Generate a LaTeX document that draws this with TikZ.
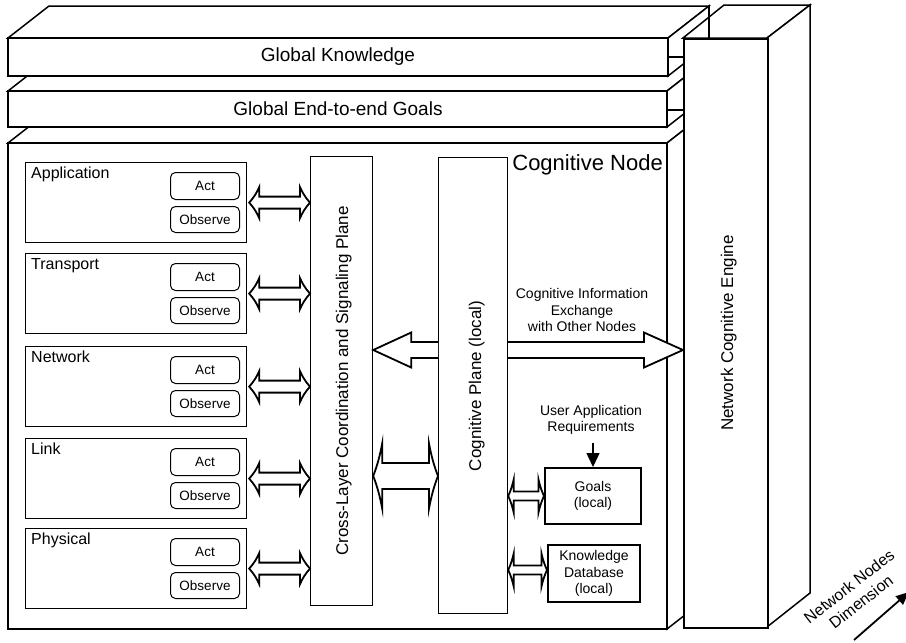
\documentclass[tikz,border=0pt]{standalone}
\usepackage{fontspec}
\setmainfont{Liberation Sans}
\usetikzlibrary{calc,arrows.meta}
\newcommand{\dblarr}[5]{%
  \draw[dblarrow] let \p1=#1, \p2=#2 in
   (\x1,\y1)
   .. controls (\x1+0.5*#3,\y1+0.35*#4) and (\x1+0.8*#3,\y1+0.7*#4) .. (\x1+#3,\y1+#4)
   -- (\x1+#3,\y1+#5) -- (\x2-#3,\y1+#5) -- (\x2-#3,\y1+#4)
   .. controls (\x2-0.8*#3,\y1+0.7*#4) and (\x2-0.5*#3,\y1+0.35*#4) .. (\x2,\y1)
   .. controls (\x2-0.5*#3,\y1-0.35*#4) and (\x2-0.8*#3,\y1-0.7*#4) .. (\x2-#3,\y1-#4)
   -- (\x2-#3,\y1-#5) -- (\x1+#3,\y1-#5) -- (\x1+#3,\y1-#4)
   .. controls (\x1+0.8*#3,\y1-0.7*#4) and (\x1+0.5*#3,\y1-0.35*#4) .. (\x1,\y1) -- cycle;
}
\begin{document}
\begin{tikzpicture}[x=1pt,y=-1pt,
  slab/.style={draw=black,fill=white,line width=1.5pt,line join=miter},
  thinline/.style={draw=black,line width=1.5pt},
  layerbox/.style={draw=black,fill=white,line width=1.2pt,minimum width=221pt,minimum height=80pt,anchor=north west,inner sep=0pt},
  actbox/.style={draw=black,fill=white,line width=1pt,rounded corners=5pt,minimum width=69pt,anchor=north west,inner sep=0pt,font=\fontsize{13.5}{16}\selectfont},
  plane/.style={draw=black,fill=white,line width=1.2pt,anchor=north west,inner sep=0pt},
  dbbox/.style={draw=black,fill=white,line width=2pt,anchor=north west,inner sep=0pt},
  bigtext/.style={font=\fontsize{19}{22}\selectfont,inner sep=0pt},
  layerlabel/.style={font=\fontsize{16}{19}\selectfont,inner sep=0pt,anchor=base west},
  vtext/.style={font=\fontsize{17}{20}\selectfont,inner sep=0pt,rotate=90,anchor=base},
  smalltext/.style={font=\fontsize{14}{16.5}\selectfont,inner sep=0pt,align=center},
  dimtextstyle/.style={font=\fontsize{16}{19.5}\selectfont,inner sep=0pt,align=center,rotate=38},
  dblarrow/.style={draw=black,fill=white,line width=1.8pt,line join=miter,miter limit=20},
  bigarrow/.style={draw=black,fill=white,line width=1.8pt,line join=miter},
  reqarrow/.style={draw=black,line width=1.5pt,-{Triangle[length=14pt,width=13pt]}},
  dimarrow/.style={draw=black,line width=1.8pt,-{Triangle[length=13pt,width=11pt]}}
]
\useasboundingbox (0,0) rectangle (906,643);
\fill[white] (0,0) rectangle (906,643);

% ---- Cognitive Node slab (bottom) ----
\path[slab] (8,143)--(49,111)--(708,111)--(667,143)--cycle;
\path[slab] (667,143)--(708,111)--(708,597)--(667,629)--cycle;
\path[slab] (8,143) rectangle (667,629);
% ---- Global End-to-end Goals slab ----
\path[slab] (8,91)--(49,59)--(708,59)--(667,91)--cycle;
\path[slab] (667,91)--(708,59)--(708,95)--(667,127)--cycle;
\path[slab] (8,91) rectangle (667,127);
% ---- Global Knowledge slab ----
\path[slab] (8,38)--(49,6)--(709,6)--(668,38)--cycle;
\path[slab] (668,38)--(709,6)--(709,44)--(668,76)--cycle;
\path[slab] (8,38) rectangle (668,76);

\node[bigtext] (gk) at (338,57) {Global Knowledge};
\node[bigtext] (ge) at (338,109) {Global End-to-end Goals};
\node[font=\fontsize{22}{26}\selectfont,inner sep=0pt,anchor=base east] (cn) at (663,170) {Cognitive Node};

% ---- planes ----
\node[plane,minimum width=62pt,minimum height=449pt] (cross) at (310,156) {};
\node[vtext] (crosstext) at (348,381) {Cross-Layer Coordination and Signaling Plane};
\node[plane,minimum width=69pt,minimum height=456pt] (cog) at (438,157) {};
\node[vtext] (cogtext) at (481,386) {Cognitive Plane (local)};

% ---- protocol layers ----
\foreach \name/\top/\lab in {app/162/Application,trans/253/Transport,net/346/Network,link/438/Link,phys/528/Physical}{
  \node[layerbox] (\name) at (25,\top) {};
  \node[layerlabel] (lbl-\name) at (31,\top+16) {\lab};
  \node[actbox,minimum height=27pt] (act-\name) at (170,\top+10) {Act};
  \node[actbox,minimum height=26pt] (obs-\name) at (170,\top+44) {Observe};
  \dblarr{($(\name.east)+(2,0)$)}{(cross.west |- \name.east)}{10pt}{15.5pt}{6pt}
}

% ---- arrows between planes ----
\dblarr{(cross.east |- 0,476)}{(cog.west |- 0,476)}{9pt}{32.5pt}{13pt}
\draw[bigarrow] let \p1=(cog.west |- 0,350), \p2=(cross.east |- 0,350) in
  (\x1,\y1+8pt) -- (\x2+38pt,\y1+8pt) -- (\x2+38pt,\y1+17.5pt) -- (\x2,\y1)
  -- (\x2+38pt,\y1-17.5pt) -- (\x2+38pt,\y1-8pt) -- (\x1,\y1-8pt);

% ---- local goals / knowledge ----
\node[dbbox,minimum width=96pt,minimum height=56pt] (goals) at (544,467) {};
\node[smalltext] (goalstext) at (goals.center) {Goals\\(local)};
\node[dbbox,minimum width=92pt,minimum height=57pt] (kb) at (547,544) {};
\node[smalltext] (kbtext) at (kb.center) {Knowledge\\Database\\(local)};
\dblarr{(cog.east |- goals.west)}{(goals.west)}{5.5pt}{16.5pt}{4.5pt}
\dblarr{(cog.east |- 0,570)}{(kb.west |- 0,570)}{5.5pt}{16.5pt}{4.5pt}

\node[smalltext] (reqtext) at (591,420) {User Application\\Requirements};
\draw[reqarrow] (goals.north |- 0,443) -- (goals.north);

\node[smalltext] (infotext) at (582,310) {Cognitive Information\\Exchange\\with Other Nodes};

% ---- Network Cognitive Engine ----
\path[slab] (683,38)--(724,5)--(810,5)--(767,38)--cycle;
\path[slab] (767,38)--(810,5)--(810,593)--(767,627)--cycle;
\node[plane,line width=1.5pt,minimum width=84pt,minimum height=589pt] (engine) at (683,38) {};
\node[vtext] (enginetext) at (733,333) {Network Cognitive Engine};
\draw[thinline] (709,6) -- (709,38);
\draw[line width=1.2pt] (668,57) -- (683,57);
\draw[line width=1.2pt] (667,110) -- (683,110);

\draw[bigarrow] let \p1=(cog.east |- 0,350), \p2=(engine.west |- 0,350) in
  (\x1,\y1+8pt) -- (\x2-39pt,\y1+8pt) -- (\x2-39pt,\y1+17.5pt) -- (\x2,\y1)
  -- (\x2-39pt,\y1-17.5pt) -- (\x2-39pt,\y1-8pt) -- (\x1,\y1-8pt);

% ---- Network nodes dimension ----
\node[dimtextstyle] (dimtext) at (855,594) {Network Nodes\\Dimension};
\coordinate (dimA) at (854,640);
\coordinate (dimB) at (909,592);
\draw[dimarrow] (dimA) -- (dimB);
\end{tikzpicture}
\end{document}
